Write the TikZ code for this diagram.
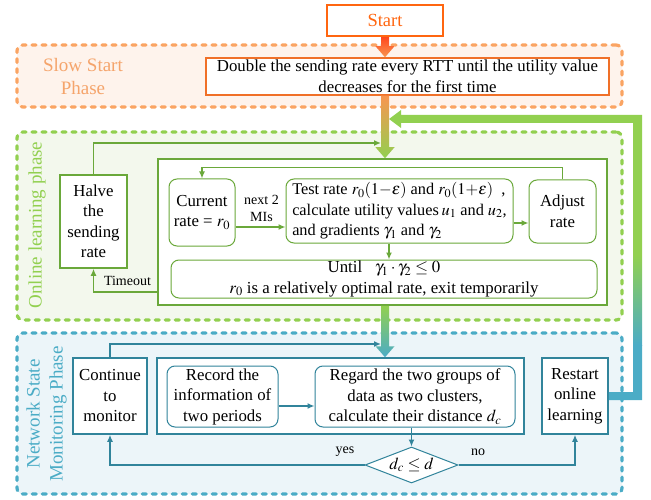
\documentclass[tikz,border=0pt]{standalone}
\usepackage{mathptmx}
\usepackage{fontspec}
\setmainfont{Liberation Serif}
\usetikzlibrary{arrows.meta,calc,shapes.geometric}
\tikzset{>={Latex[length=7pt,width=6pt]}}
\definecolor{startor}{RGB}{255,102,16}
\definecolor{stepor}{RGB}{240,112,40}
\definecolor{slowdash}{RGB}{250,164,99}
\definecolor{slowfill}{RGB}{254,243,236}
\definecolor{slowtext}{RGB}{245,164,107}
\definecolor{gdash}{RGB}{146,208,80}
\definecolor{gfill}{RGB}{243,248,237}
\definecolor{gline}{RGB}{106,168,58}
\definecolor{bdash}{RGB}{75,172,198}
\definecolor{bfill}{RGB}{236,245,249}
\definecolor{bline}{RGB}{49,132,155}
\definecolor{arrowred}{RGB}{255,72,30}
\definecolor{arrowor}{RGB}{248,150,80}
\tikzstyle{region}=[rectangle,line width=3.2pt,dash pattern=on 4pt off 6pt,line cap=round,rounded corners=6pt,inner sep=0pt]
\tikzstyle{slowregion}=[region,draw=slowdash,fill=slowfill]
\tikzstyle{onlineregion}=[region,draw=gdash,fill=gfill]
\tikzstyle{monitorregion}=[region,draw=bdash,fill=bfill]
\tikzstyle{phasetitle}=[align=center,font=\fontsize{19}{23}\selectfont,inner sep=0pt]
\tikzstyle{startbox}=[rectangle,draw=startor,line width=2.5pt,fill=white,text=startor,font=\fontsize{18.5}{22}\selectfont,inner sep=0pt]
\tikzstyle{slowstep}=[rectangle,draw=stepor,line width=1.5pt,fill=white,align=center,inner sep=0pt]
\tikzstyle{gbox}=[rectangle,draw=gline,line width=1.5pt,fill=white,align=center,inner sep=0pt]
\tikzstyle{ground}=[gbox,line width=1pt,rounded corners=8pt]
\tikzstyle{bbox}=[rectangle,draw=bline,line width=1.5pt,fill=white,align=center,inner sep=0pt]
\tikzstyle{bround}=[bbox,line width=1pt,rounded corners=8pt]
\tikzstyle{bdiamond}=[diamond,draw=bline,line width=1pt,fill=white,aspect=2.6,inner sep=0pt]
\tikzstyle{gthin}=[draw=gline,line width=1.5pt]
\tikzstyle{bthin}=[draw=bline,line width=1.5pt]
\tikzstyle{smalltext}=[align=center,font=\fontsize{14}{17}\selectfont,inner sep=0pt]
\newcommand{\bigarrow}[3]{\shade[#3] ($(#1)+(-4pt,0)$) -- ($(#2)+(-4pt,11pt)$) -- ($(#2)+(-9.5pt,11pt)$) -- (#2) -- ($(#2)+(9.5pt,11pt)$) -- ($(#2)+(4pt,11pt)$) -- ($(#1)+(4pt,0)$) -- cycle;}

\begin{document}
\begin{tikzpicture}[x=1pt,y=-1pt,font=\fontsize{16.8}{20.5}\selectfont]
	\useasboundingbox (0,0) rectangle (651,500);
	% phase backgrounds
	\node[slowregion,minimum width=605pt,minimum height=62pt] (slowphase) at (319.5,76) {};
	\node[onlineregion,minimum width=605pt,minimum height=188pt] (onlinephase) at (319.5,226) {};
	\node[monitorregion,minimum width=605pt,minimum height=161pt] (monitorphase) at (319.5,413.5) {};
	\node[phasetitle,text=slowtext] (slowtitle) at (83,76.5) {Slow Start\\Phase};
	\node[phasetitle,text=gdash,rotate=90] (onlinetitle) at (37,225) {Online learning phase};
	\node[phasetitle,text=bdash,rotate=90] (monitortitle) at (46.5,414) {Network State\\Monitoring Phase};
	
	% slow start
	\node[startbox,minimum width=116pt,minimum height=31pt] (start) at (385,20.5) {Start};
	\node[slowstep,minimum width=403pt,minimum height=37pt] (double) at (407.5,76.5) {Double the sending rate every RTT until the utility value\\decreases for the first time};
	
	% online learning
	\node[gbox,minimum width=67pt,minimum height=93pt] (halve) at (93.5,221.5) {Halve\\the\\sending\\rate};
	\node[gbox,minimum width=449pt,minimum height=146pt] (innerg) at (382.5,232) {};
	\node[ground,minimum width=66pt,minimum height=67pt] (current) at (202,212.5) {Current\\rate = $r_0$};
	\node[ground,minimum width=227pt,minimum height=64pt,align=left,font=\fontsize{16.3}{20.5}\selectfont] (test) at (399.5,211) {Test rate $r_0(1{-}\varepsilon)$ and $r_0(1{+}\varepsilon)$~ ,\\calculate utility values\,$u_1$ and $u_2$,\\and gradients $\gamma_1$ and $\gamma_2$};
	\node[ground,minimum width=67pt,minimum height=63pt] (adjust) at (562.5,211.5) {Adjust\\rate};
	\node[ground,minimum width=426pt,minimum height=38pt] (until) at (384,279) {Until~~ $\gamma_1\cdot\gamma_2\le 0$\\$r_0$ is a relatively optimal rate, exit temporarily};
	\node[smalltext] (nextmi) at (261.5,208.5) {next 2\\MIs};
	\node[smalltext] (timeout) at (127.5,281) {Timeout};
	
	% network state monitoring
	\node[bbox,minimum width=74pt,minimum height=76pt] (continue) at (110,396) {Continue\\to\\monitor};
	\node[bbox,minimum width=367pt,minimum height=76pt] (innerb) at (340.5,396) {};
	\node[bround,minimum width=111pt,minimum height=61pt] (record) at (222.5,396.5) {Record the\\information of\\two periods};
	\node[bround,minimum width=200pt,minimum height=61pt] (regard) at (415,396.5) {Regard the two groups of\\data as two clusters,\\calculate their distance $d_c$};
	\node[bdiamond,minimum width=93pt,minimum height=36pt] (check) at (411.5,465) {$d_c\le d$};
	\node[bbox,minimum width=66pt,minimum height=76pt] (restart) at (575,396) {Restart\\online\\learning};
	\node[smalltext] (yes) at (345,452) {yes};
	\node[smalltext] (no) at (478,452) {no};
	
	% thin connectors
	\coordinate (gin) at (381,143);
	\coordinate (bin) at (381,344);
	\draw[gthin,->] (halve.north) |- (gin);
	\draw[gthin,->] (adjust.north) -- ++(0,-12) -| (current.north);
	\draw[gthin,->] ([yshift=-14.5pt]current.east) -- ([yshift=-14.5pt]current.east -| test.west);
	\draw[gthin,->] ([yshift=-12pt]test.east) -- ([yshift=-12pt]test.east -| adjust.west);
	\draw[gthin,->] ([xshift=-10.5pt]test.south) -- ([xshift=-10.5pt]test.south |- until.north);
	\draw[gthin,->] ([yshift=-60pt]innerg.west) -| (halve.south);
	\draw[bthin,->] (continue.north) |- (bin);
	\draw[bthin,->] ([yshift=-9.5pt]record.east) -- ([yshift=-9.5pt]record.east -| regard.west);
	\draw[bthin,->] (regard.south -| check.north) -- (check.north);
	\draw[bthin,->] (check.west) -| (continue.south);
	\draw[bthin,->] (check.east) -| (restart.south);
	
	% thick phase arrows
	\coordinate (a1s) at (start.south);
	\coordinate (a1e) at (start.south |- double.north);
	\coordinate (a2s) at (start.south |- double.south);
	\coordinate (a2e) at (start.south |- innerg.north);
	\coordinate (a3s) at (start.south |- innerg.south);
	\coordinate (a3e) at (start.south |- innerb.north);
	\bigarrow{a1s}{a1e}{top color=arrowred,bottom color=arrowor}
	\bigarrow{a2s}{a2e}{top color=arrowor,bottom color=gdash}
	\bigarrow{a3s}{a3e}{top color=gdash,bottom color=bdash}
	
	% restart feedback arrow
	\coordinate (fbtip) at (389,119);
	\coordinate (fbx) at (637.5,0);
	\coordinate (fbturn) at (restart.east -| fbx);
	\coordinate (fbcorner) at (fbx |- fbtip);
	\begin{scope}
		\clip ($(restart.east)+(0,4pt)$) -- ($(fbturn)+(-4.5pt,4pt)$) -- ($(fbcorner)+(-4.5pt,-4pt)$) -- ($(fbtip)+(12pt,-4pt)$) -- ($(fbtip)+(12pt,-9pt)$) -- (fbtip) -- ($(fbtip)+(12pt,9pt)$) -- ($(fbtip)+(12pt,4pt)$) -- ($(fbcorner)+(4.5pt,4pt)$) -- ($(fbturn)+(4.5pt,-4pt)$) -- ($(restart.east)+(0,-4pt)$) -- cycle;
		\fill[gdash] (380,100) rectangle (650,255);
		\shade[top color=gdash,bottom color=bdash] (380,255) rectangle (650,345);
		\fill[bdash] (380,345) rectangle (650,410);
	\end{scope}
\end{tikzpicture}
\end{document}
